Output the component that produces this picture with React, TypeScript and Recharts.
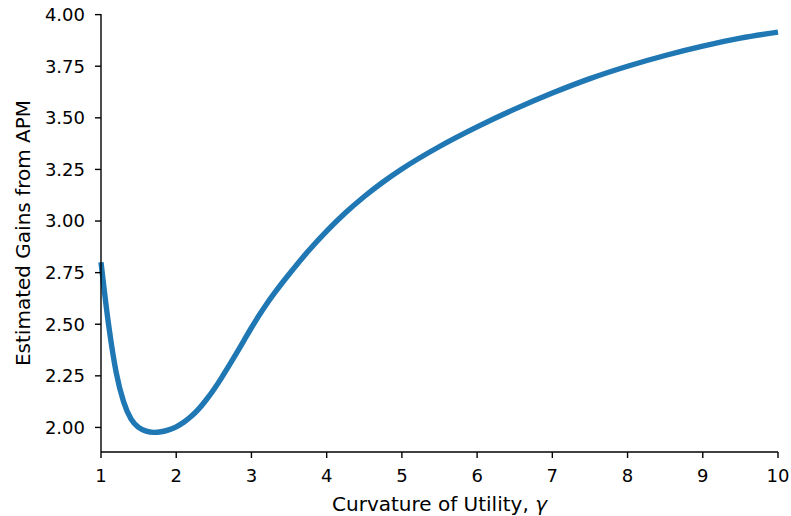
import { LineChart, Line, XAxis, YAxis } from "recharts";

// curvature of utility (gamma) and estimated gains
const gamma = [
  1.0, 1.1, 1.2, 1.3, 1.4, 1.5, 1.6, 1.7, 1.8, 1.9, 2.0, 2.1, 2.2, 2.3, 2.4,
  2.5, 2.6, 2.7, 2.8, 2.9, 3.0, 3.1, 3.2, 3.3, 3.4, 3.5, 3.75, 4.0, 4.25, 4.5,
  4.75, 5.0, 5.5, 6.0, 6.5, 7.0, 7.5, 8.0, 8.5, 9.0, 9.5, 10.0,
];
const gains = [
  2.8, 2.5, 2.27, 2.125, 2.04, 2.0, 1.982, 1.976, 1.979, 1.988, 2.003, 2.025,
  2.054, 2.09, 2.134, 2.184, 2.239, 2.298, 2.359, 2.421, 2.483, 2.542, 2.597,
  2.648, 2.696, 2.742, 2.852, 2.951, 3.04, 3.119, 3.189, 3.252, 3.361, 3.456,
  3.542, 3.62, 3.69, 3.75, 3.802, 3.847, 3.886, 3.915,
];
const xTicks = [1, 2, 3, 4, 5, 6, 7, 8, 9, 10];
const yTicks = [2.0, 2.25, 2.5, 2.75, 3.0, 3.25, 3.5, 3.75, 4.0];

const chartData = gamma.map((g, i) => ({ g, v: gains[i] }));

const FONT = "'DejaVu Sans', sans-serif";
const tickStyle = { fontSize: 18, fill: "#000", fontFamily: FONT };

const XLabel = (props: any) => {
  const vb = props.viewBox;
  return (
    <text
      x={vb.x + vb.width / 2}
      y={vb.y + vb.height - 5.5}
      textAnchor="middle"
      fontSize={20}
      fontFamily={FONT}
      fill="#000"
    >
      Curvature of Utility, <tspan fontStyle="italic">γ</tspan>
    </text>
  );
};

const YLabel = (props: any) => {
  const vb = props.viewBox;
  const cx = 23;
  const cy = vb.y + vb.height / 2;
  return (
    <text
      x={cx}
      y={cy}
      dy="0.36em"
      transform={`rotate(-90, ${cx}, ${cy})`}
      textAnchor="middle"
      fontSize={20}
      fontFamily={FONT}
      fill="#000"
    >
      Estimated Gains from APM
    </text>
  );
};

export default function App() {
  return (
    <div style={{ position: "absolute", left: 0, top: 0, background: "#fff" }}>
      <LineChart
        width={791}
        height={516}
        data={chartData}
        margin={{ top: 14, right: 13, bottom: 0, left: 0 }}
      >
        <XAxis
          dataKey="g"
          type="number"
          domain={[1, 10]}
          ticks={xTicks}
          height={64}
          tickSize={6}
          tickMargin={11}
          tick={tickStyle}
          axisLine={{ stroke: "#000", strokeWidth: 1.4 }}
          tickLine={{ stroke: "#000", strokeWidth: 1.4 }}
          label={<XLabel />}
        />
        <XAxis
          xAxisId="top"
          orientation="top"
          dataKey="g"
          type="number"
          domain={[1, 10]}
          height={0}
          tick={false}
          tickLine={false}
          axisLine={{ stroke: "#000", strokeWidth: 1.4 }}
        />
        <YAxis
          type="number"
          domain={[1.881, 4.003]}
          allowDataOverflow
          ticks={yTicks}
          width={101}
          tickSize={6}
          tickMargin={10}
          tick={tickStyle}
          tickFormatter={(v: number) => v.toFixed(2)}
          axisLine={{ stroke: "#000", strokeWidth: 1.4 }}
          tickLine={{ stroke: "#000", strokeWidth: 1.4 }}
          label={<YLabel />}
        />
        <YAxis
          yAxisId="right"
          orientation="right"
          domain={[1.881, 4.003]}
          width={0}
          tick={false}
          tickLine={false}
          axisLine={{ stroke: "#000", strokeWidth: 1.4 }}
        />
        <Line
          type="monotone"
          dataKey="v"
          stroke="#1f77b4"
          strokeWidth={5.4}
          dot={false}
          activeDot={false}
          isAnimationActive={false}
        />
      </LineChart>
    </div>
  );
}
